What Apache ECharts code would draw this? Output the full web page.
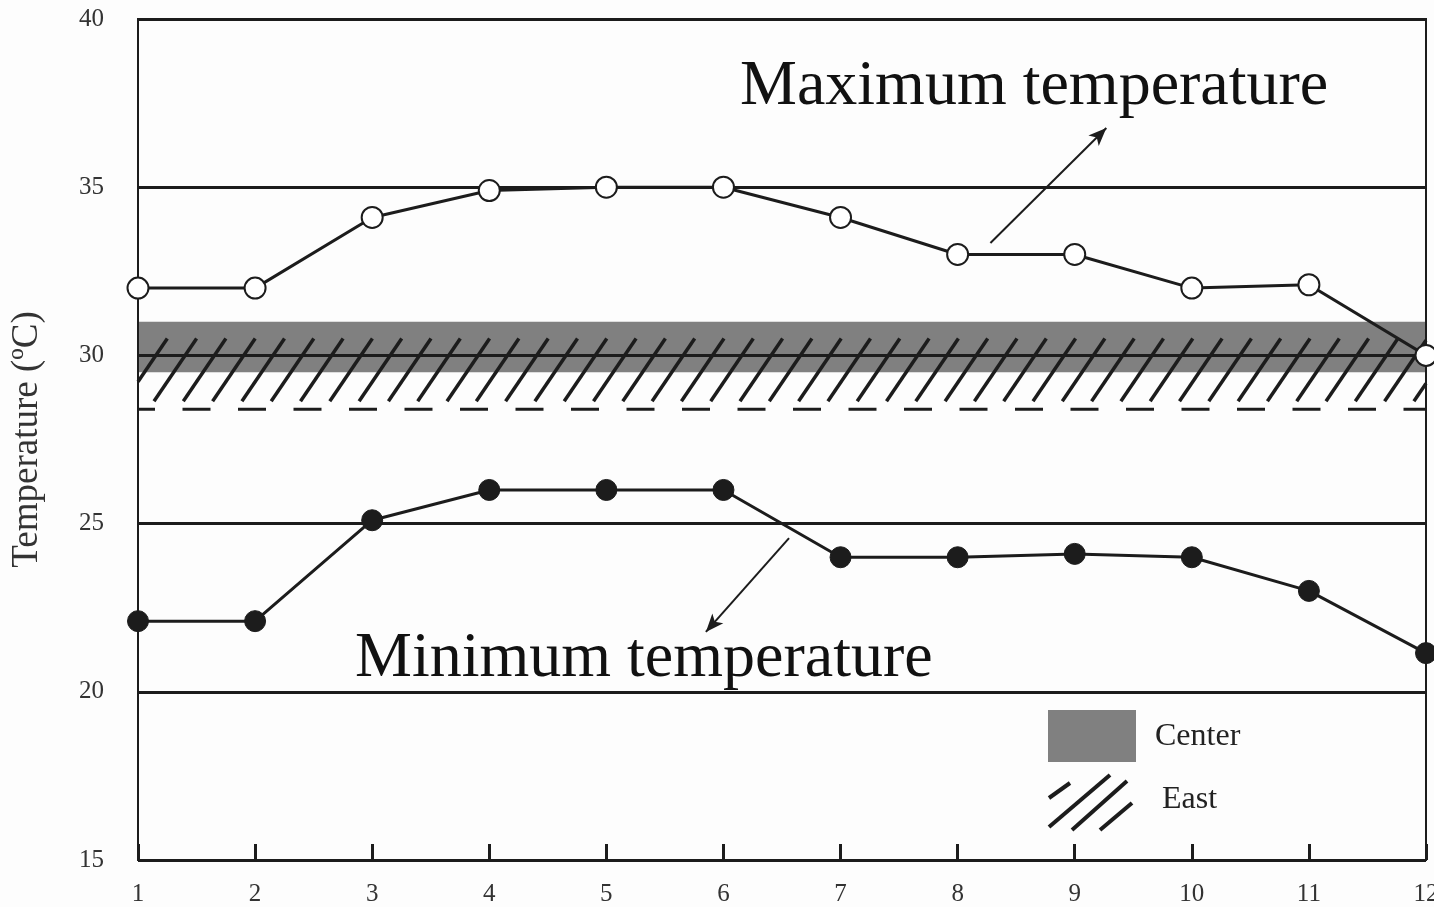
<!DOCTYPE html>
<html>
<head>
<meta charset="utf-8">
<script src="https://cdn.jsdelivr.net/npm/echarts@6/dist/echarts.min.js"></script>
<style>
html,body{margin:0;padding:0;background:#fdfdfd;}
#main{width:1434px;height:907px;}
</style>
</head>
<body>
<div id="main"></div>
<script>
const months = [1,2,3,4,5,6,7,8,9,10,11,12];
const maxTemp = [32, 32, 34.1, 34.9, 35, 35, 34.1, 33, 33, 32, 32.1, 30];
const minTemp = [22.1, 22.1, 25.1, 26, 26, 26, 24, 24, 24.1, 24, 23, 21.15];
const centerBand = [29.5, 31];      // Center range
const eastBand = [28.4, 30.5];      // East range (dashed lower bound)
const yTicks = [15, 20, 25, 30, 35, 40];

const FONT = '"Liberation Serif", "DejaVu Serif", serif';
const INK = '#1c1c1c';

const chart = echarts.init(document.getElementById('main'), null, {renderer: 'canvas'});

function bandItem(lo, hi) { return [months[0], lo, months[months.length - 1], hi]; }

const option = {
  backgroundColor: '#fdfdfd',
  animation: false,
  grid: {left: 138, right: 8, top: 19, bottom: 47, show: true, borderColor: INK, borderWidth: 2,
         backgroundColor: 'transparent', containLabel: false, outerBoundsMode: 'none'},
  xAxis: {
    type: 'value', min: 1, max: 12, interval: 1,
    axisLine: {show: true, lineStyle: {color: INK, width: 2}},
    axisTick: {show: true, inside: true, length: 16, lineStyle: {color: INK, width: 3}},
    axisLabel: {fontFamily: FONT, fontSize: 25, color: '#333', margin: 22},
    splitLine: {show: false}
  },
  yAxis: {
    type: 'value', min: yTicks[0], max: yTicks[yTicks.length - 1], interval: 5,
    name: 'Temperature (ºC)', nameLocation: 'middle', nameGap: 92,
    nameTextStyle: {fontFamily: FONT, fontSize: 37, color: '#333'},
    axisLine: {show: true, lineStyle: {color: INK, width: 2}},
    axisTick: {show: false},
    axisLabel: {fontFamily: FONT, fontSize: 25, color: '#333', margin: 34},
    splitLine: {show: true, lineStyle: {color: INK, width: 3}}
  },
  series: [
    {
      name: 'Center', type: 'custom', z: -1, silent: true,
      data: [bandItem(centerBand[0], centerBand[1])],
      renderItem: function (params, api) {
        const p1 = api.coord([api.value(0), api.value(3)]);
        const p2 = api.coord([api.value(2), api.value(1)]);
        return {type: 'rect', shape: {x: p1[0], y: p1[1], width: p2[0] - p1[0], height: p2[1] - p1[1]},
                style: {fill: '#808080'}};
      }
    },
    {
      name: 'East', type: 'custom', z: 1, silent: true,
      data: [bandItem(eastBand[0], eastBand[1])],
      renderItem: function (params, api) {
        const p1 = api.coord([api.value(0), api.value(3)]);
        const p2 = api.coord([api.value(2), api.value(1)]);
        const left = p1[0], right = p2[0], top = p1[1], bottom = p2[1] - 8;
        const h = bottom - top, dx = h * 0.68, step = 29.3;
        const children = [];
        for (let x0 = left - dx; x0 < right; x0 += step) {
          let xa = x0, ya = bottom, xb = x0 + dx, yb = top;
          if (xa < left) { const t = (left - xa) / dx; xa = left; ya = bottom - t * h; }
          if (xb > right) { const t = (xb - right) / dx; xb = right; yb = top + t * h; }
          if (xb - xa < 1) continue;
          children.push({type: 'line', shape: {x1: xa, y1: ya, x2: xb, y2: yb},
                         style: {stroke: INK, lineWidth: 3.5}});
        }
        return {type: 'group', children: children};
      }
    },
    {
      name: 'East lower', type: 'line', z: 1, silent: true, symbol: 'none',
      data: [[months[0], eastBand[0]], [months[months.length - 1], eastBand[0]]],
      lineStyle: {color: INK, width: 3, type: [28, 27.5], dashOffset: 11}
    },
    {
      name: 'Maximum temperature', type: 'line', z: 5, clip: false,
      data: months.map((m, i) => [m, maxTemp[i]]),
      symbol: 'circle', symbolSize: 21,
      lineStyle: {color: INK, width: 3},
      itemStyle: {color: '#ffffff', borderColor: INK, borderWidth: 2},
      markLine: {
        silent: true, symbol: ['none', 'arrow'], symbolSize: [11, 18],
        label: {show: false},
        lineStyle: {color: INK, width: 2, type: 'solid'},
        data: [[{coord: [8.28, 33.34]}, {coord: [9.27, 36.76]}]]
      }
    },
    {
      name: 'Minimum temperature', type: 'line', z: 5, clip: false,
      data: months.map((m, i) => [m, minTemp[i]]),
      symbol: 'circle', symbolSize: 21,
      lineStyle: {color: INK, width: 3},
      itemStyle: {color: INK, borderColor: INK, borderWidth: 1},
      markLine: {
        silent: true, symbol: ['none', 'arrow'], symbolSize: [11, 18],
        label: {show: false},
        lineStyle: {color: INK, width: 2, type: 'solid'},
        data: [[{coord: [6.56, 24.57]}, {coord: [5.85, 21.78]}]]
      }
    }
  ],
  graphic: [
    {type: 'text', left: 740, top: 55, z: 10,
     style: {text: 'Maximum temperature', font: '64px ' + FONT, fill: '#111'}},
    {type: 'text', left: 355, top: 627, z: 10,
     style: {text: 'Minimum temperature', font: '64px ' + FONT, fill: '#111'}},
    {type: 'rect', shape: {x: 1048, y: 710, width: 88, height: 52}, style: {fill: '#808080'}, z: 10},
    {type: 'text', left: 1155, top: 721, z: 10,
     style: {text: 'Center', font: '32px ' + FONT, fill: '#222'}},
    {type: 'group', z: 10, children: [
      {type: 'line', shape: {x1: 1049, y1: 798, x2: 1070, y2: 783}, style: {stroke: INK, lineWidth: 4}},
      {type: 'line', shape: {x1: 1049, y1: 827, x2: 1110, y2: 775}, style: {stroke: INK, lineWidth: 4}},
      {type: 'line', shape: {x1: 1072, y1: 830, x2: 1127, y2: 781}, style: {stroke: INK, lineWidth: 4}},
      {type: 'line', shape: {x1: 1100, y1: 830, x2: 1132, y2: 803}, style: {stroke: INK, lineWidth: 4}}
    ]},
    {type: 'text', left: 1162, top: 784, z: 10,
     style: {text: 'East', font: '32px ' + FONT, fill: '#222'}}
  ]
};
chart.setOption(option);
</script>
</body>
</html>
